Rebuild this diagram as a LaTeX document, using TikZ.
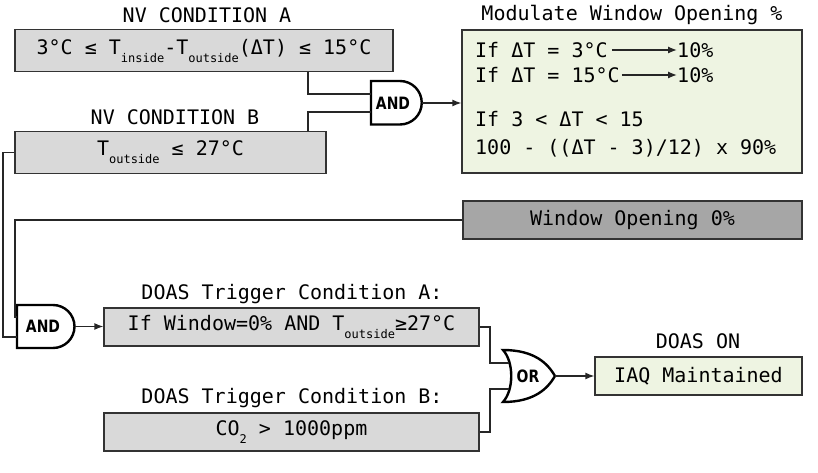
\documentclass[tikz,border=0pt]{standalone}
\usepackage{fontspec}
\setmainfont{DejaVu Sans Mono}
\newfontfamily\gatefont{DejaVu Sans}
\usetikzlibrary{arrows.meta,calc}
\newcommand{\lowtxt}[1]{\raisebox{-0.4em}{\fontsize{12}{12}\selectfont #1}}
\definecolor{boxgray}{HTML}{D9D9D9}
\definecolor{darkgray2}{HTML}{A6A6A6}
\definecolor{lgreen}{HTML}{EEF4E2}
\begin{document}
\begin{tikzpicture}[x=1pt,y=-1pt,
  font=\fontsize{20}{22}\selectfont,
  box/.style={draw=black!80,line width=1.3pt,fill=boxgray,inner sep=0pt},
  ttl/.style={inner sep=0pt},
  gate/.style={draw=black,line width=2.4pt,fill=white},
  gtxt/.style={inner sep=0pt,font=\gatefont\bfseries\fontsize{17}{17}\selectfont},
  wire/.style={draw=black!85,line width=1.3pt},
  arr/.style={wire,-{Latex[length=9pt,width=7pt]}}]
\useasboundingbox (0,0) rectangle (818,473);
% boxes
\node[box,minimum width=378pt,minimum height=42pt] (A) at (204,50.5) {3°C ≤ T\lowtxt{inside}-T\lowtxt{outside}(ΔT) ≤ 15°C};
\node[ttl] (At) at (207,15) {NV CONDITION A};
\node[box,minimum width=311pt,minimum height=42pt] (B) at (170.5,152.5) {T\lowtxt{outside} ≤ 27°C};
\node[ttl] (Bt) at (175,117) {NV CONDITION B};
\node[box,fill=lgreen,minimum width=340pt,minimum height=143pt] (M) at (632,101.5) {};
\node[ttl] (Mt) at (632,15) {Modulate Window Opening \%};
\node[ttl,anchor=west] (m1) at (475,50) {If ΔT = 3°C};
\node[ttl,anchor=west] (m1b) at (677,50) {10\%};
\node[ttl,anchor=west] (m2) at (475,75) {If ΔT = 15°C};
\node[ttl,anchor=west] (m2b) at (677,75) {10\%};
\node[ttl,anchor=west] (m3) at (475,119) {If 3 < ΔT < 15};
\node[ttl,anchor=west] (m4) at (475,148) {100 - ((ΔT - 3)/12) x 90\%};
\draw[arr] (m1.east)++(4,0) -- (m1b.west);
\draw[arr] (m2.east)++(2,0) -- (m2b.west);
\node[box,fill=darkgray2,minimum width=339pt,minimum height=38pt] (W) at (632.5,220) {Window Opening 0\%};
\node[box,minimum width=375pt,minimum height=38pt] (DA) at (291.5,327) {If Window=0\% AND T\lowtxt{outside}≥27°C};
\node[ttl] (DAt) at (292,294) {DOAS Trigger Condition A:};
\node[box,minimum width=375pt,minimum height=38pt] (DB) at (291.5,432) {CO\lowtxt{2} > 1000ppm};
\node[ttl] (DBt) at (292,398) {DOAS Trigger Condition B:};
\node[box,fill=lgreen,minimum width=207pt,minimum height=38pt] (IAQ) at (698.5,376) {IAQ Maintained};
\node[ttl] (IAQt) at (698,341) {DOAS ON};
% gate 1 (AND)
\draw[gate] (371,81) -- (400,81) arc[start angle=-90,end angle=90,radius=21.75] -- (371,124.5) -- cycle;
\node[gtxt] (g1) at (393,103) {\scalebox{0.82}[1]{AND}};
\coordinate (g1i1) at (371,94);
\coordinate (g1i2) at (371,112);
\coordinate (g1o) at (421.75,103);
% gate 2 (AND)
\draw[gate] (17,305) -- (53,305) arc[start angle=-90,end angle=90,radius=21.5] -- (17,348) -- cycle;
\node[gtxt] (g2) at (43,326.5) {\scalebox{0.82}[1]{AND}};
\coordinate (g2i1) at (17,317);
\coordinate (g2i2) at (17,337);
\coordinate (g2o) at (74.5,326.5);
% gate 3 (OR)
\draw[gate] (503,350) .. controls (535,350) and (548,364) .. (555,376) .. controls (548,388) and (535,402) .. (503,402) .. controls (514,390) and (514,362) .. (503,350) -- cycle;
\node[gtxt] (g3) at (528,376) {\scalebox{0.82}[1]{OR}};
\coordinate (g3i1) at (509,363);
\coordinate (g3i2) at (509,389);
\coordinate (g3o) at (555,376);
% junction coordinates
\coordinate (j1) at (308,0);
\coordinate (j2) at (15,0);
\coordinate (j3) at (3,0);
\coordinate (j4) at (490,0);
% wires
\draw[wire] (A.south -| j1) |- (g1i1);
\draw[wire] (B.north -| j1) |- (g1i2);
\draw[arr] (g1o) -- (M.west |- g1o);
\draw[wire] (W.west) -- (W.west -| j2) |- (g2i1);
\draw[wire] (B.west) -- (B.west -| j3) |- (g2i2);
\draw[arr] (g2o) -- (DA.west |- g2o);
\draw[wire] (DA.east) -- (DA.east -| j4) |- (g3i1);
\draw[wire] (DB.east) -- (DB.east -| j4) |- (g3i2);
\draw[arr] (g3o) -- (IAQ.west |- g3o);
\end{tikzpicture}
\end{document}
